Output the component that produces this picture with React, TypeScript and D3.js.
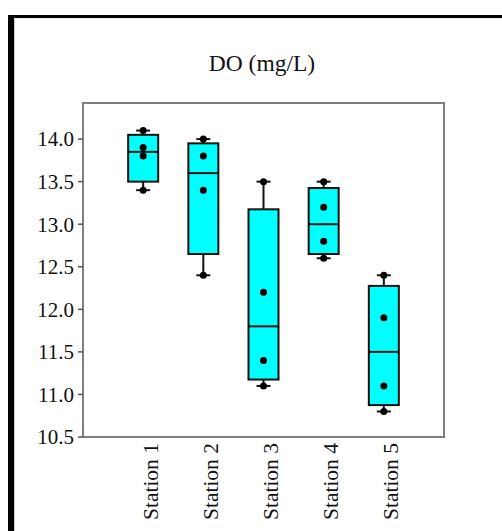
import React from "react";
import * as d3 from "d3";

const stations = ["Station 1", "Station 2", "Station 3", "Station 4", "Station 5"];
const station1 = [14.1, 13.9, 13.8, 13.4];
const station2 = [14.0, 13.8, 13.4, 12.4];
const station3 = [13.5, 12.2, 11.4, 11.1];
const station4 = [13.5, 13.2, 12.8, 12.6];
const station5 = [12.4, 11.9, 11.1, 10.8];
const seriesValues = [station1, station2, station3, station4, station5];
const yTicks = [10.5, 11.0, 11.5, 12.0, 12.5, 13.0, 13.5, 14.0];
const title = "DO (mg/L)";

// weighted average percentile (position p*(n+1))
function pct(vals: number[], p: number) {
  const s = [...vals].sort((a, b) => a - b);
  const n = s.length;
  const pos = p * (n + 1);
  const k = Math.floor(pos);
  const f = pos - k;
  if (k < 1) return s[0];
  if (k >= n) return s[n - 1];
  return s[k - 1] + f * (s[k] - s[k - 1]);
}

export default function App() {
  const W = 502, H = 531;
  const left = 83, right = 444, top = 103, bottom = 437;
  const x = d3.scaleLinear().domain([0, stations.length + 1]).range([left, right]);
  const y = d3.scaleLinear().domain([10.5, 14.424]).range([bottom, top]);
  const font = "Liberation Serif, Times New Roman, DejaVu Serif, serif";
  const boxW = 30;
  const capW = 14;

  return (
    <svg width={W} height={H} style={{ position: "absolute", left: 0, top: 0, background: "#fff", fontFamily: font }}>
      {/* outer black border */}
      <rect x={8} y={15} width={6} height={H - 15} fill="#000" />
      <rect x={8} y={15} width={W - 8} height={3} fill="#000" />
      <line x1={14.5} y1={18} x2={14.5} y2={H} stroke="#cfcfcf" strokeWidth={1} />
      <line x1={14} y1={18.5} x2={W} y2={18.5} stroke="#eee" strokeWidth={1} />

      <text x={262} y={71} textAnchor="middle" style={{ fontFamily: font }} fontSize={23.5} fill="#111">{title}</text>

      {/* frame */}
      <rect x={left} y={top} width={right - left} height={bottom - top} fill="none" stroke="#7f7f7f" strokeWidth={2} />

      {/* y axis ticks */}
      {yTicks.map((t) => (
        <g key={t}>
          <line x1={left - 5} x2={left} y1={y(t)} y2={y(t)} stroke="#555" strokeWidth={1.5} />
          <text x={left - 9} y={y(t)} dy="0.35em" textAnchor="end" style={{ fontFamily: font }} fontSize={21} fill="#111">
            {d3.format(".1f")(t)}
          </text>
        </g>
      ))}

      {/* boxes */}
      {seriesValues.map((vals, i) => {
        const cx = x(i + 1);
        const mn = d3.min(vals) as number;
        const mx = d3.max(vals) as number;
        const q1 = pct(vals, 0.25);
        const q3 = pct(vals, 0.75);
        const med = pct(vals, 0.5);
        return (
          <g key={i}>
            <line x1={cx} x2={cx} y1={y(mx)} y2={y(q3)} stroke="#111" strokeWidth={2} />
            <line x1={cx} x2={cx} y1={y(q1)} y2={y(mn)} stroke="#111" strokeWidth={2} />
            <line x1={cx - capW / 2} x2={cx + capW / 2} y1={y(mx)} y2={y(mx)} stroke="#111" strokeWidth={2} />
            <line x1={cx - capW / 2} x2={cx + capW / 2} y1={y(mn)} y2={y(mn)} stroke="#111" strokeWidth={2} />
            <rect x={cx - boxW / 2} y={y(q3)} width={boxW} height={y(q1) - y(q3)} fill="#00ffff" stroke="#111" strokeWidth={2} />
            <line x1={cx - boxW / 2} x2={cx + boxW / 2} y1={y(med)} y2={y(med)} stroke="#111" strokeWidth={2} />
            {vals.map((v, j) => (
              <circle key={j} cx={cx} cy={y(v)} r={3.5} fill="#000" />
            ))}
          </g>
        );
      })}

      {/* x labels */}
      {stations.map((s, i) => {
        const cx = x(i + 1) + 14.5;
        return (
          <text key={s} transform={`translate(${cx},${443}) rotate(-90)`} textAnchor="end" style={{ fontFamily: font }} fontSize={21.5} fill="#111">
            {s}
          </text>
        );
      })}
    </svg>
  );
}
